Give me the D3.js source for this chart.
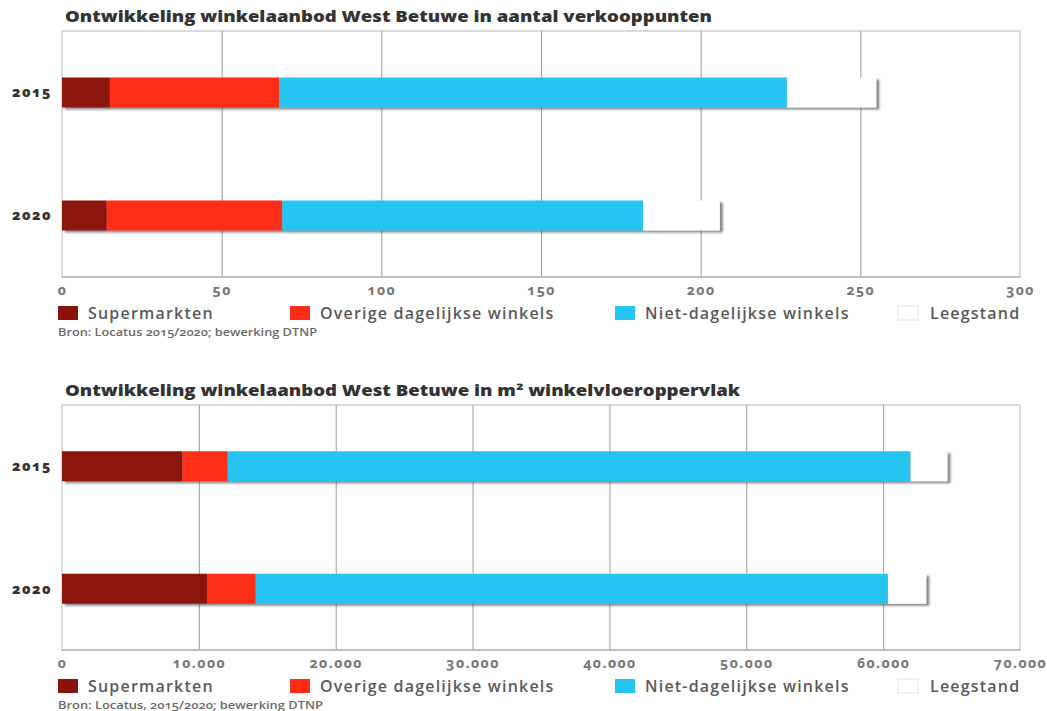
<!DOCTYPE html>
<html><head><meta charset="utf-8">
<script src="https://cdn.jsdelivr.net/npm/d3@7"></script>
<style>
body{margin:0;background:#fff;}
svg{display:block;font-family:"Open Sans",sans-serif;}
.num{font-variant-numeric:oldstyle-nums;}
</style></head>
<body><svg id="c" width="1047" height="711"></svg>
<script>
const categories = ["2015", "2020"];
const seriesNames = ["Supermarkten", "Overige dagelijkse winkels", "Niet-dagelijkse winkels", "Leegstand"];
const seriesColors = ["#8a1208", "#ff2d16", "#25c5f1", "#ffffff"];

// Chart 1: aantal verkooppunten
const title1 = "Ontwikkeling winkelaanbod West Betuwe in aantal verkooppunten";
const supermarkten1 = [15, 14];
const overige1 = [53, 55];
const nietDagelijks1 = [159, 113];
const leegstand1 = [28, 24];
const ticks1 = [0, 50, 100, 150, 200, 250, 300];
const source1 = "Bron: Locatus 2015/2020; bewerking DTNP";

// Chart 2: m2 winkelvloeroppervlak
const title2 = "Ontwikkeling winkelaanbod West Betuwe in m² winkelvloeroppervlak";
const supermarkten2 = [8800, 10600];
const overige2 = [3300, 3550];
const nietDagelijks2 = [49900, 46200];
const leegstand2 = [2700, 2800];
const ticks2 = [0, 10000, 20000, 30000, 40000, 50000, 60000, 70000];
const source2 = "Bron: Locatus, 2015/2020; bewerking DTNP";

const nl = d3.formatLocale({decimal: ",", thousands: ".", grouping: [3], currency: ["€", ""]});
const svg = d3.select("#c");

const defs = svg.append("defs");
const f = defs.append("filter").attr("id", "sh").attr("x", "-5%").attr("y", "-30%").attr("width", "115%").attr("height", "170%");
f.append("feDropShadow").attr("dx", 3).attr("dy", 2).attr("stdDeviation", 1.3)
  .attr("flood-color", "#444").attr("flood-opacity", 0.65);

function drawChart(cfg) {
  const {top, bottom, left, right, title, titleLen, series, ticks, fmt, source, sourceLen} = cfg;
  const g = svg.append("g");
  const x = d3.scaleLinear().domain([0, ticks[ticks.length - 1]]).range([left, right]);
  const y = d3.scalePoint().domain(categories).range([top, bottom]).padding(0.5);
  const barH = 30;

  // title
  g.append("text").attr("x", 65).attr("y", top - 9)
    .attr("font-size", 15).attr("font-weight", 800).attr("fill", "#333")
    .attr("textLength", titleLen).attr("lengthAdjust", "spacingAndGlyphs")
    .text(title);

  // frame
  g.append("rect").attr("x", left).attr("y", top).attr("width", right - left).attr("height", bottom - top)
    .attr("fill", "none").attr("stroke", "#cfcfcf").attr("stroke-width", 1.5);

  // gridlines
  const grid = g.append("g").attr("transform", `translate(0,${bottom})`)
    .call(d3.axisBottom(x).tickValues(ticks.slice(1, -1)).tickSize(-(bottom - top)).tickFormat(""));
  grid.select(".domain").remove();
  grid.selectAll("line").attr("stroke", "#9a9a9a").attr("stroke-width", 1);

  // bottom axis line
  g.append("line").attr("x1", left).attr("x2", right).attr("y1", bottom).attr("y2", bottom)
    .attr("stroke", "#b5b5b5").attr("stroke-width", 1.5);

  // tick labels
  const ax = g.append("g").attr("transform", `translate(0,${bottom})`)
    .call(d3.axisBottom(x).tickValues(ticks).tickSize(0).tickPadding(8).tickFormat(fmt));
  ax.select(".domain").remove();
  ax.selectAll("text").attr("class", "num").attr("font-family", "Open Sans").attr("font-size", 14)
    .attr("font-weight", 700).attr("fill", "#777").attr("letter-spacing", 1.5);

  // year labels
  g.append("g").selectAll("text").data(categories).join("text")
    .attr("class", "num").attr("x", 52).attr("y", d => y(d)).attr("dy", "0.35em")
    .attr("text-anchor", "end").attr("font-size", 14).attr("font-weight", 800).attr("fill", "#333")
    .attr("letter-spacing", 1.5)
    .text(d => d);

  // stacked bars
  const rows = categories.map((c, i) => {
    const o = {cat: c};
    seriesNames.forEach((s, j) => o[s] = series[j][i]);
    return o;
  });
  const stacked = d3.stack().keys(seriesNames)(rows);
  const bars = g.append("g");
  categories.forEach((c, i) => {
    const bg = bars.append("g").attr("filter", "url(#sh)");
    stacked.forEach((layer, j) => {
      const d = layer[i];
      bg.append("rect").attr("x", x(d[0])).attr("y", y(c) - barH / 2)
        .attr("width", x(d[1]) - x(d[0])).attr("height", barH)
        .attr("fill", seriesColors[j]);
    });
  });

  // legend
  const legX = [58, 290, 615, 898];
  const legY = bottom + 36;
  const leg = g.append("g");
  seriesNames.forEach((s, j) => {
    leg.append("rect").attr("x", legX[j]).attr("y", legY - 7).attr("width", 20).attr("height", 14)
      .attr("fill", seriesColors[j]).attr("stroke", j === 3 ? "#e3e3e3" : "none");
    leg.append("text").attr("x", legX[j] + (j === 3 ? 32 : 30)).attr("y", legY).attr("dy", "0.35em")
      .attr("font-size", 16).attr("font-weight", 600).attr("fill", "#5a5a5a")
      .attr("letter-spacing", 1.2).text(s);
  });

  // source
  g.append("text").attr("class", "num").attr("x", 58).attr("y", legY + 19).attr("dy", "0.35em")
    .attr("font-size", 10.5).attr("font-weight", 600).attr("fill", "#6a6a6a")
    .attr("textLength", sourceLen).attr("lengthAdjust", "spacingAndGlyphs")
    .text(source);
}

drawChart({
  top: 31, bottom: 277, left: 62, right: 1020,
  title: title1, titleLen: 647,
  series: [supermarkten1, overige1, nietDagelijks1, leegstand1],
  ticks: ticks1, fmt: d3.format("d"),
  source: source1, sourceLen: 259
});
drawChart({
  top: 405, bottom: 650, left: 62, right: 1020,
  title: title2, titleLen: 675,
  series: [supermarkten2, overige2, nietDagelijks2, leegstand2],
  ticks: ticks2, fmt: nl.format(","),
  source: source2, sourceLen: 265
});
</script></body></html>
